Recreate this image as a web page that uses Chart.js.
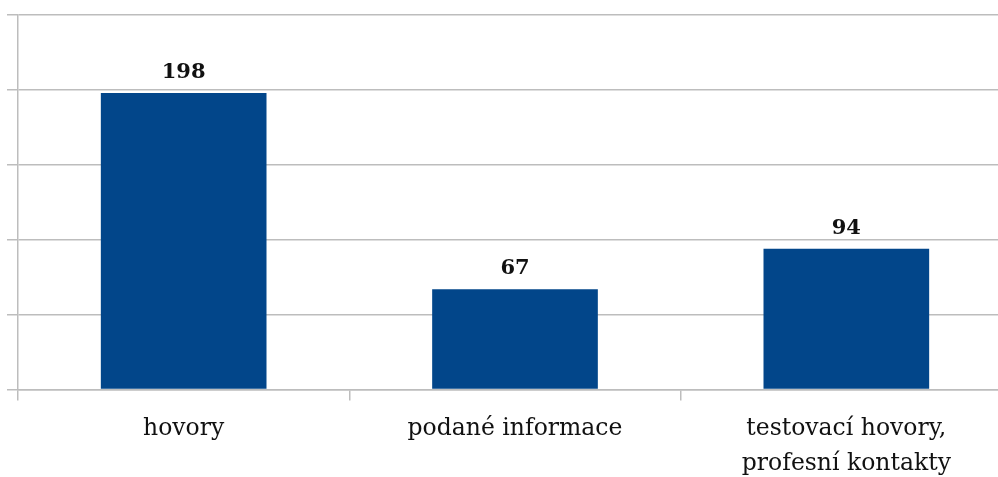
<!DOCTYPE html>
<html>
<head>
<meta charset="utf-8">
<script src="https://cdn.jsdelivr.net/npm/chart.js@4.4.1/dist/chart.umd.min.js"></script>
<style>
  html, body { margin: 0; padding: 0; background: #fff; overflow: hidden; }
  #wrap { position: relative; width: 1012px; height: 493px; }
</style>
</head>
<body>
<div id="wrap"><canvas id="grafico"></canvas></div>
<script>
// categorias e valores
const categorias = ['hovory', 'podané informace', ['testovací hovory,', 'profesní kontakty']];
const valores = [198, 67, 94];
const eixoY = { min: 0, max: 250, passo: 50 };

const COR_BARRA = '#02468A';
const COR_GRADE = '#BDBDBD';

// rótulos em cima das barras
const rotulosValores = {
    id: 'rotulosValores',
    afterDatasetsDraw(chart) {
        const ctx = chart.ctx;
        const meta = chart.getDatasetMeta(0);
        ctx.save();
        ctx.font = 'bold 21px "DejaVu Serif"';
        ctx.fillStyle = '#111';
        ctx.textAlign = 'center';
        ctx.textBaseline = 'alphabetic';
        meta.data.forEach(function(bar, i) {
            ctx.fillText(valores[i], bar.x, bar.y - 15);
        });
        ctx.restore();
    }
};

new Chart(document.getElementById('grafico'), {
    type: 'bar',
    data: {
        labels: categorias,
        datasets: [{
            data: valores,
            backgroundColor: COR_BARRA,
            categoryPercentage: 1,
            barPercentage: 0.5
        }]
    },
    options: {
        responsive: true,
        maintainAspectRatio: false,
        animation: false,
        layout: { padding: { top: 15, left: 7, right: 0, bottom: 0 } },
        plugins: {
            legend: { display: false },
            tooltip: { enabled: false }
        },
        scales: {
            x: {
                offset: true,
                grid: { drawOnChartArea: false, offset: true, color: COR_GRADE, tickLength: 11, lineWidth: 1.5 },
                border: { color: COR_GRADE, width: 1.5 },
                ticks: { color: '#111', padding: 11, maxRotation: 0, font: { family: 'DejaVu Serif', size: 23.5, lineHeight: 1.5 } }
            },
            y: {
                min: eixoY.min,
                max: eixoY.max,
                grid: { color: COR_GRADE, tickLength: 11, lineWidth: 1.5 },
                border: { color: COR_GRADE, width: 1.5 },
                ticks: { stepSize: eixoY.passo, padding: 0, callback: () => '', font: { size: 1 } }
            }
        }
    },
    plugins: [rotulosValores]
});
</script>
</body>
</html>
